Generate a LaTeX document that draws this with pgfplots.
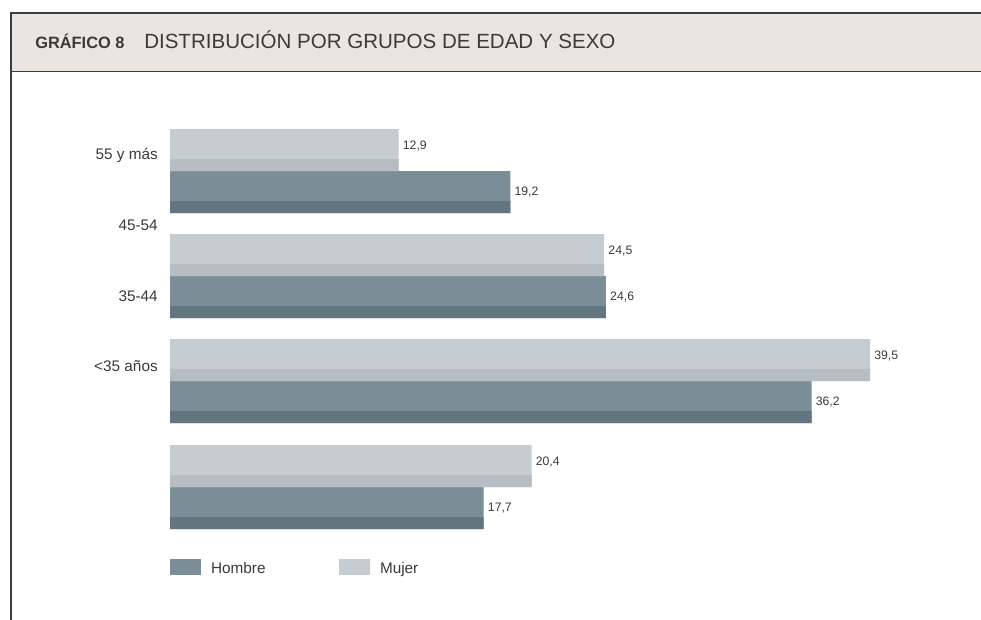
\documentclass[border=0pt]{standalone}
\usepackage{fontspec}
\setmainfont{Liberation Sans}
\usepackage{pgfplots}
\pgfplotsset{compat=1.18}
\definecolor{mujer}{HTML}{C5CCD2}
\definecolor{mujerd}{HTML}{B6BEC4}
\definecolor{hombre}{HTML}{7B8D96}
\definecolor{hombred}{HTML}{63767F}
\definecolor{headbg}{HTML}{E9E5E2}
\definecolor{framec}{HTML}{3C3C3C}
\definecolor{txt}{HTML}{3A3A3A}
\begin{document}
\begin{tikzpicture}[x=0.75pt,y=-0.75pt]
\path[use as bounding box] (0,0) rectangle (981,620);
\fill[headbg] (11,13) rectangle (981,71.5);
\draw[framec, line width=1.4pt] (11,620) -- (11,13) -- (981,13);
\draw[framec, line width=1.4pt] (11,71.5) -- (981,71.5);
\node[anchor=base west, inner sep=0pt, font=\fontsize{12.3}{14}\selectfont\bfseries, text=txt] at (35,49) {GRÁFICO 8};
\node[anchor=base west, inner sep=0pt, font=\fontsize{15.4}{18}\selectfont, text=txt] at (144,49) {DISTRIBUCIÓN POR GRUPOS DE EDAD Y SEXO};
\begin{axis}[
  at={(127.5pt,-405pt)}, anchor=south west,
  scale only axis, width=525pt, height=315pt,
  xmin=0, xmax=39.5, ymin=120, ymax=540, y dir=reverse,
  axis line style={draw=none}, major tick length=0pt,
  xtick=\empty, ytick={155,225,296,366},
  yticklabels={55 y más,45-54,35-44,<35 años},
  ytick pos=left,
  yticklabel style={inner sep=0pt, xshift=-9pt, font=\fontsize{11.5}{13}\selectfont, text=txt},
  clip=false,
  xbar,
  legend style={at={(axis cs:0,567)}, anchor=west, draw=none, fill=none,
    inner sep=0pt, outer sep=0pt, column sep=0pt,
    font=\fontsize{11.5}{13}\selectfont, text=txt, nodes={inner sep=0pt}},
  legend columns=2,
  legend image code/.code={\fill[#1] (0pt,-4.9pt) rectangle (23.25pt,7.1pt); \path (30.75pt,0pt);},
]
\addplot[fill=hombre, draw=none, bar width=42, bar shift=0pt,
  nodes near coords, point meta=explicit symbolic,
  every node near coord/.append style={anchor=west, inner sep=0pt, xshift=3pt, font=\fontsize{9.2}{11}\selectfont, text=txt}]
  coordinates {(19.2,192)[19,2] (24.6,297)[24,6] (36.2,402)[36,2] (17.7,508)[17,7]};
\addlegendentry{\makebox[96pt][l]{Hombre}}
\addplot[fill=mujer, draw=none, bar width=42, bar shift=0pt,
  nodes near coords, point meta=explicit symbolic,
  every node near coord/.append style={anchor=west, inner sep=0pt, xshift=3pt, yshift=3pt, font=\fontsize{9.2}{11}\selectfont, text=txt}]
  coordinates {(12.9,150)[12,9] (24.5,255)[24,5] (39.5,360)[39,5] (20.4,466)[20,4]};
\addlegendentry{Mujer}
\addplot[fill=mujerd, draw=none, bar width=12, bar shift=0pt, forget plot]
  coordinates {(12.9,165) (24.5,270) (39.5,375) (20.4,481)};
\addplot[fill=hombred, draw=none, bar width=12, bar shift=0pt, forget plot]
  coordinates {(19.2,207) (24.6,312) (36.2,417) (17.7,523)};
\end{axis}
\end{tikzpicture}
\end{document}
